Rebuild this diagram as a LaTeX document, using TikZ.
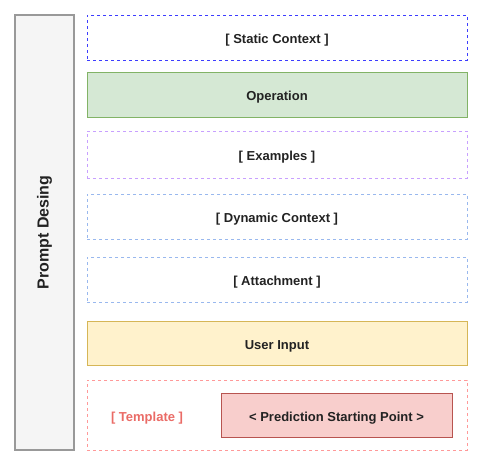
\documentclass[tikz,border=0pt]{standalone}
\usepackage{fontspec}
\setmainfont{Liberation Sans}
\usetikzlibrary{positioning}
\definecolor{barfill}{HTML}{F5F5F5}
\definecolor{bardraw}{HTML}{999999}
\definecolor{opfill}{HTML}{D5E8D4}
\definecolor{opdraw}{HTML}{82B366}
\definecolor{infill}{HTML}{FFF2CC}
\definecolor{indraw}{HTML}{D6B656}
\definecolor{predfill}{HTML}{F8CECC}
\definecolor{preddraw}{HTML}{B85450}
\definecolor{staticdraw}{HTML}{3D3DFF}
\definecolor{exdraw}{HTML}{C8A0FF}
\definecolor{dyndraw}{HTML}{99B8EE}
\definecolor{tmpldraw}{HTML}{FF9999}
\definecolor{tmpltext}{HTML}{EA6B66}
\definecolor{txt}{HTML}{222222}

\begin{document}
\begin{tikzpicture}
[x=1pt, y=-1pt, node distance=12pt, semithick,
every node/.style={font=\bfseries\fontsize{13}{15}\selectfont, text=txt, inner sep=0pt, outer sep=0pt},
boxtext/.style={text height=12pt, text depth=0pt},
layer/.style={draw, rectangle, boxtext, minimum width=380pt, minimum height=45pt},
dash layer/.style={layer, dash pattern=on 3pt off 3pt}
]
  \useasboundingbox (0,0) rectangle (484,467);

  \node[draw=bardraw, fill=barfill, line width=1.2pt, minimum width=59pt, minimum height=435pt] (bar) at (44.5,232.5) {};
  \node[rotate=90, font=\bfseries\fontsize{16}{19}\selectfont] (title) at (bar.center) {Prompt Desing};

  \node[dash layer, draw=staticdraw] (static) at (277,37.5) {[ Static Context ]};
  \node[layer, draw=opdraw, fill=opfill] (op) [below=12pt of static] {Operation};
  \node[dash layer, draw=exdraw, minimum height=47pt] (ex) [below=14pt of op] {[ Examples ]};
  \node[dash layer, draw=dyndraw] (dyn) [below=16pt of ex] {[ Dynamic Context ]};
  \node[dash layer, draw=dyndraw] (att) [below=18pt of dyn] {[ Attachment ]};
  \node[layer, draw=indraw, fill=infill, minimum height=44pt] (input) [below=19pt of att] {User Input};
  \node[dash layer, draw=tmpldraw, minimum height=70pt] (tmpl) [below=15pt of input] {};

  \node[boxtext, text=tmpltext] (tmpllabel) at (147,415) {[ Template ]};
  \node[boxtext, draw=preddraw, fill=predfill, minimum width=231pt, minimum height=44pt] (pred) at (336.5,415) {< Prediction Starting Point >};
\end{tikzpicture}
\end{document}
